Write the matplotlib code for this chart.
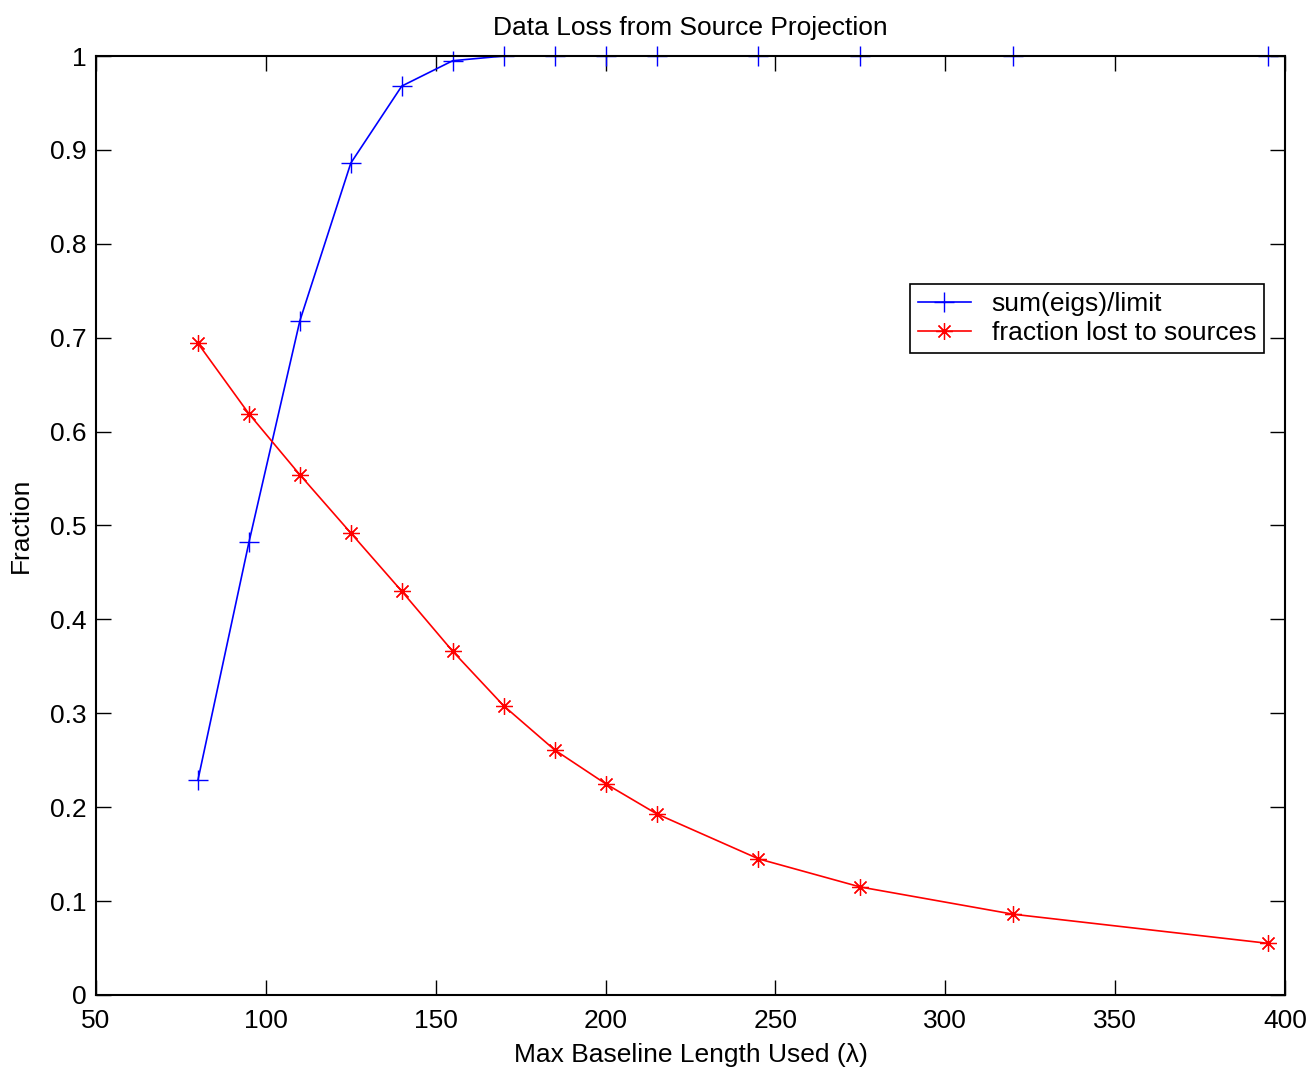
import matplotlib
matplotlib.use('Agg')
import matplotlib.pyplot as plt

plt.rcParams['font.family'] = ['Liberation Sans', 'DejaVu Sans']

baseline = [80, 95, 110, 125, 140, 155, 170, 185, 200, 215, 245, 275, 320, 395]
eig_frac = [0.229, 0.482, 0.718, 0.886, 0.968, 0.995, 1.0, 1.0, 1.0, 1.0, 1.0, 1.0, 1.0, 1.0]
lost_frac = [0.694, 0.619, 0.554, 0.492, 0.430, 0.366, 0.308, 0.261, 0.225, 0.193,
             0.145, 0.115, 0.086, 0.055]

fig = plt.figure(figsize=(13.14, 10.67), dpi=100)
ax = fig.add_axes([0.0731, 0.0675, 0.9048, 0.8800])

ax.plot(baseline, eig_frac, color='blue', marker='+', markersize=14, markeredgewidth=1.0,
        linewidth=1.2, label='sum(eigs)/limit', clip_on=False)
ax.plot(baseline, lost_frac, color='red', marker=(8, 2, 0), markersize=12, markeredgewidth=0.9,
        linewidth=1.2, label='fraction lost to sources', clip_on=False)

ax.set_xlim(50, 400)
ax.set_ylim(0, 1)
ax.set_xticks(range(50, 401, 50))
ax.set_yticks([i / 10 for i in range(11)])
ax.set_yticklabels(['0', '0.1', '0.2', '0.3', '0.4', '0.5', '0.6', '0.7', '0.8', '0.9', '1'])
ax.tick_params(direction='in', top=True, right=True, length=11, width=1, labelsize=19)
ax.tick_params(axis='x', pad=10)
ax.tick_params(axis='y', pad=7)
for s in ax.spines.values():
    s.set_linewidth(1.5)

ax.set_title('Data Loss from Source Projection', fontsize=19, pad=15)
ax.set_xlabel('Max Baseline Length Used (λ)', fontsize=19, labelpad=7)
ax.set_ylabel('Fraction', fontsize=19, labelpad=12)

leg = ax.legend(loc='upper left', bbox_to_anchor=(0.6846, 0.7572), fontsize=19,
                fancybox=False, framealpha=1, borderaxespad=0, handlelength=2.0,
                borderpad=0.3, labelspacing=0.2, handletextpad=0.8)
leg.get_frame().set_edgecolor('black')
leg.get_frame().set_linewidth(1.2)

fig.savefig('out.png', dpi=100)
